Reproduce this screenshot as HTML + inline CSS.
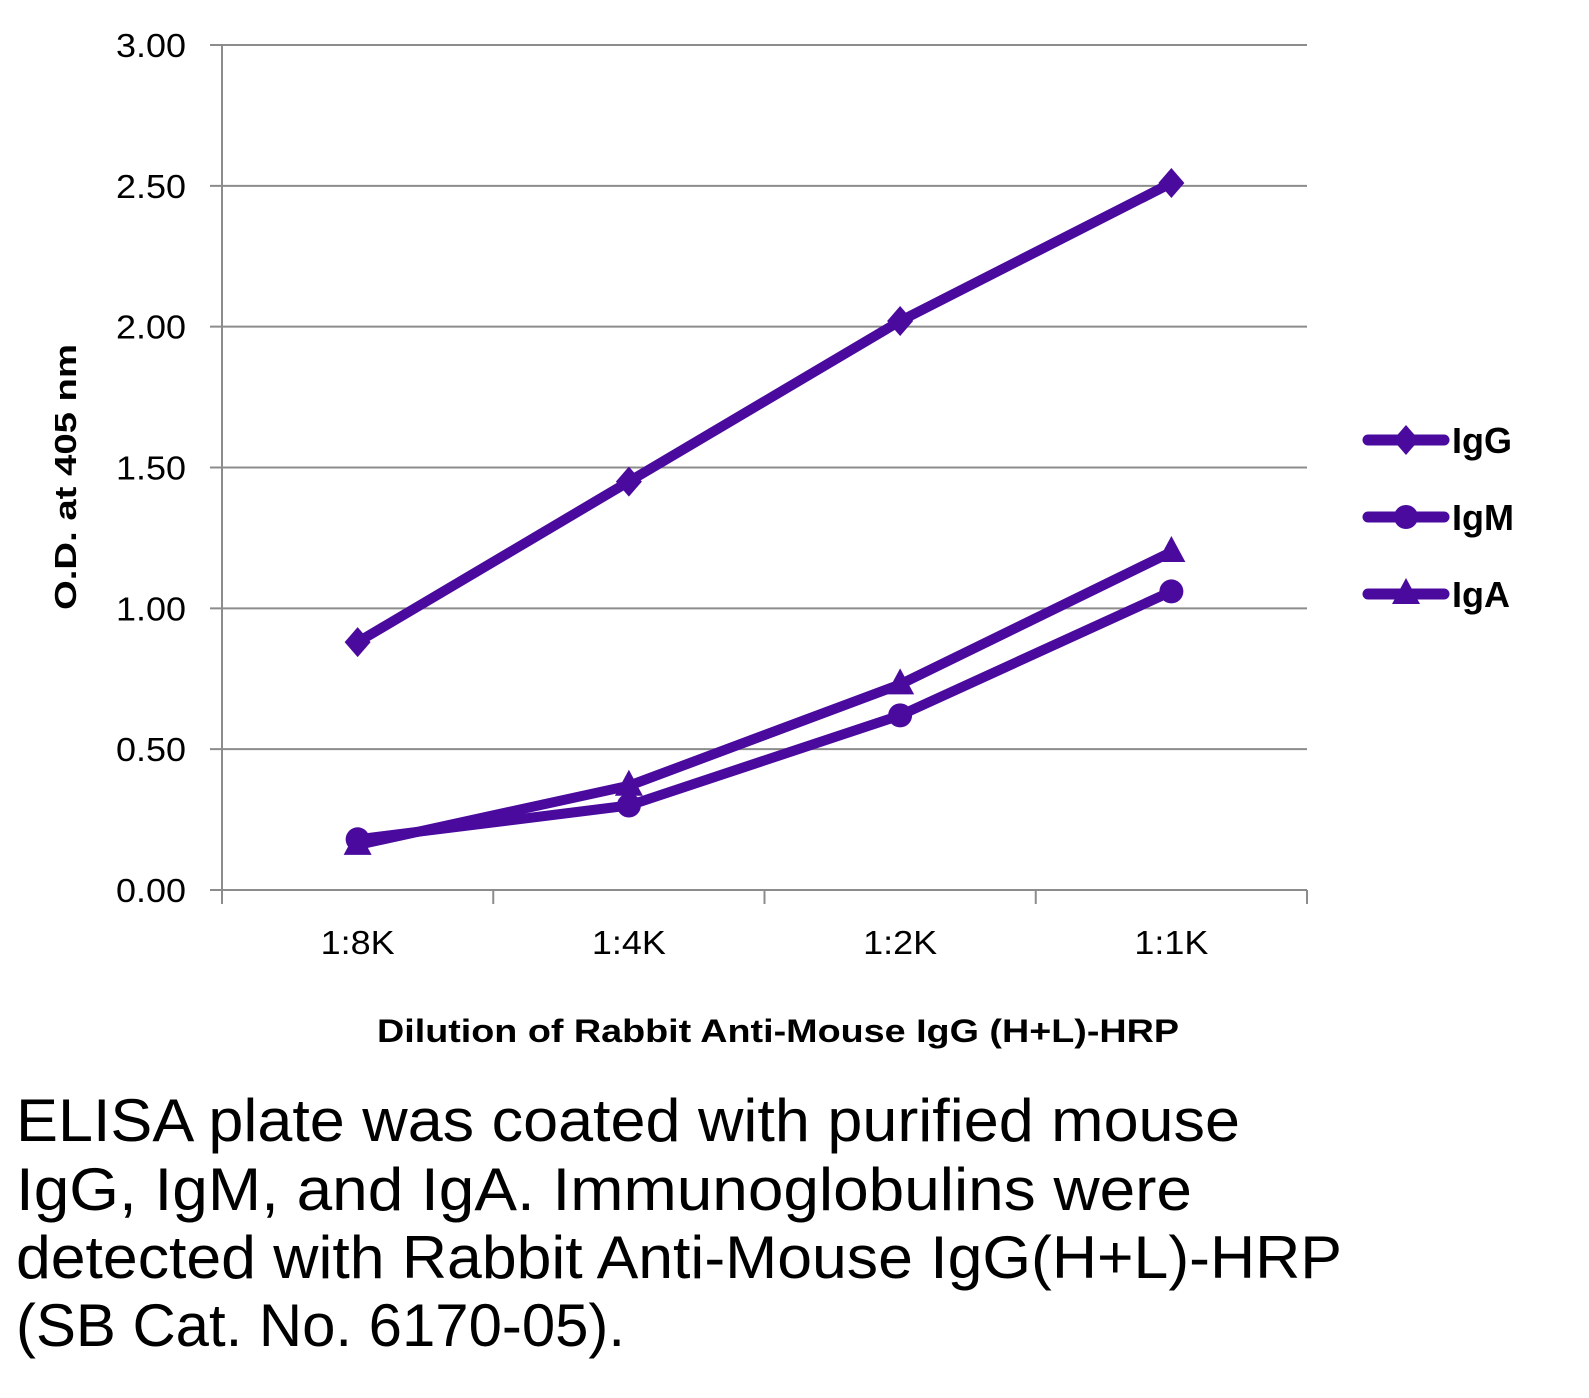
<!DOCTYPE html>
<html><head><meta charset="utf-8"><style>
body{margin:0;background:#fff;width:1589px;height:1393px;overflow:hidden;font-family:"Liberation Sans",sans-serif}
</style></head><body>
<svg id="chart" width="1589" height="1393" xmlns="http://www.w3.org/2000/svg">
<g id="grid"></g>
<g id="axes"></g>
<g id="series"></g>
<text transform="translate(76,477) rotate(-90)" text-anchor="middle" font-size="31" font-weight="bold" textLength="266" lengthAdjust="spacingAndGlyphs">O.D. at 405 nm</text>
<text x="778" y="1042" text-anchor="middle" font-size="32" font-weight="bold" textLength="802" lengthAdjust="spacingAndGlyphs">Dilution of Rabbit Anti-Mouse IgG (H+L)-HRP</text>
<g id="legend"></g>
<g font-size="60" fill="#000">
<text x="16" y="1141" textLength="1224" lengthAdjust="spacingAndGlyphs">ELISA plate was coated with purified mouse</text>
<text x="16" y="1210" textLength="1176" lengthAdjust="spacingAndGlyphs">IgG, IgM, and IgA.  Immunoglobulins were</text>
<text x="16" y="1278" textLength="1326" lengthAdjust="spacingAndGlyphs">detected with Rabbit Anti-Mouse IgG(H+L)-HRP</text>
<text x="16" y="1346" textLength="609" lengthAdjust="spacingAndGlyphs">(SB Cat. No. 6170-05).</text>
</g>
</svg>
<script>
const categories=["1:8K","1:4K","1:2K","1:1K"];
const yTicks=["0.00","0.50","1.00","1.50","2.00","2.50","3.00"];
const seriesNames=["IgG","IgM","IgA"];
const igG=[0.88,1.45,2.02,2.51];
const igM=[0.18,0.30,0.62,1.06];
const igA=[0.16,0.37,0.73,1.20];
const NS="http://www.w3.org/2000/svg";
const x0=222,x1=1307,y0=890,y1=45,ymax=3;
const bw=(x1-x0)/categories.length;
const X=i=>x0+bw*(i+0.5);
const Y=v=>y0-(v/ymax)*(y0-y1);
const C="#4a0a9e";
function mk(t,a,p){const e=document.createElementNS(NS,t);for(const k in a)e.setAttribute(k,a[k]);p.appendChild(e);return e;}
const grid=document.getElementById('grid'),axes=document.getElementById('axes'),ser=document.getElementById('series'),leg=document.getElementById('legend');
yTicks.forEach(t=>{const v=parseFloat(t);const y=Y(v);
 const l=mk('line',{x1:x0-12,x2:x1,y1:y,y2:y,stroke:'#8c8c8c','stroke-width':2},grid);
 
 
 const tx=mk('text',{x:186,y:y+12,'text-anchor':'end','font-size':33,textLength:70,lengthAdjust:'spacingAndGlyphs'},axes);tx.textContent=t;
 
 
});
mk('line',{x1:x0,x2:x0,y1:y1,y2:y0+14,stroke:'#8c8c8c','stroke-width':2},axes);
for(let i=0;i<=categories.length;i++){const x=x0+bw*i;mk('line',{x1:x,x2:x,y1:y0,y2:y0+14,stroke:'#8c8c8c','stroke-width':2},axes);}
categories.forEach((c,i)=>{const t=mk('text',{x:X(i),y:954,'text-anchor':'middle','font-size':33,textLength:74,lengthAdjust:'spacingAndGlyphs'},axes);t.textContent=c;
 
 });
function marker(kind,x,y,p){
 if(kind==0)return mk('polygon',{points:`${x},${y-15} ${x+13},${y} ${x},${y+15} ${x-13},${y}`,fill:C},p);
 if(kind==1)return mk('circle',{cx:x,cy:y,r:12,fill:C},p);
 return mk('polygon',{points:`${x},${y-16} ${x+14},${y+10} ${x-14},${y+10}`,fill:C},p);
}
[igG,igM,igA].forEach((d,k)=>{
 const pl=mk('polyline',{points:d.map((v,i)=>X(i)+','+Y(v)).join(' '),fill:'none',stroke:C,'stroke-width':10,'stroke-linejoin':'round'},ser);
 
 
 d.forEach((v,i)=>{const m=marker(k,X(i),Y(v),ser);
  
  });
 const ly=440+k*77;
 mk('line',{x1:1368,x2:1444,y1:ly,y2:ly,stroke:C,'stroke-width':11,'stroke-linecap':'round'},leg);
 marker(k,1406,ly,leg);
 const t=mk('text',{x:1452,y:ly+13,'font-size':36,'font-weight':'bold'},leg);t.textContent=seriesNames[k];
 
 
});
</script>
</body></html>
